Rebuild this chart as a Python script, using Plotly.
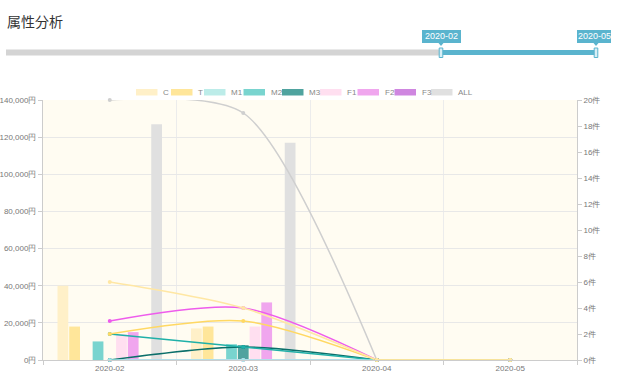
import plotly.graph_objects as go

months = ["2020-02", "2020-03", "2020-04", "2020-05"]
series = ["C", "T", "M1", "M2", "M3", "F1", "F2", "F3", "ALL"]

# amounts (yen) - bars on left axis
amount_C = [40000, 17000, 0, 0]
amount_T = [18000, 18000, 0, 0]
amount_M1 = [0, 0, 0, 0]
amount_M2 = [10000, 8500, 0, 0]
amount_M3 = [0, 8000, 0, 0]
amount_F1 = [14000, 18000, 0, 0]
amount_F2 = [15000, 31000, 0, 0]
amount_F3 = [0, 0, 0, 0]
amount_ALL = [127000, 117000, 0, 0]

# counts (件) - lines on right axis
count_C = [6, 4, 0, 0]
count_T = [2, 3, 0, 0]
count_M1 = [0, 0, 0, 0]
count_M2 = [2, 1, 0, 0]
count_M3 = [0, 1, 0, 0]
count_F1 = [0, 0, 0, 0]
count_F2 = [3, 4, 0, 0]
count_F3 = [0, 0, 0, 0]
count_ALL = [20, 19, 0, 0]

slider_start, slider_end = "2020-02", "2020-05"

amounts = dict(C=amount_C, T=amount_T, M1=amount_M1, M2=amount_M2, M3=amount_M3,
               F1=amount_F1, F2=amount_F2, F3=amount_F3, ALL=amount_ALL)
counts = dict(C=count_C, T=count_T, M1=count_M1, M2=count_M2, M3=count_M3,
              F1=count_F1, F2=count_F2, F3=count_F3, ALL=count_ALL)

bar_colors = dict(C="#fff0c8", T="#ffe69a", M1="#bcece9", M2="#79d4cf", M3="#4fa39f",
                  F1="#ffdff0", F2="#f0a6ee", F3="#cf86e0", ALL="#e0e0e0")
line_colors = dict(C="#ffe7a4", T="#ffd863", M1="#9ee9ea", M2="#1fb0a8", M3="#0b6f6a",
                   F1="#ffd3ea", F2="#ee5cec", F3="#b25ad0", ALL="#cfcfcf")

W, H = 620, 392
ML, MR, MT, MB = 43, 43, 100, 32
PW, PH = W - ML - MR, H - MT - MB


def px(x):
    return (x - ML) / PW


def py(y):
    return (H - MB - y) / PH


fig = go.Figure()

for s in series:
    fig.add_trace(go.Bar(x=months, y=amounts[s], name=s, marker_color=bar_colors[s],
                         marker_line_width=0, yaxis="y", showlegend=False))

line_order = ["ALL", "F3", "F2", "F1", "M3", "M2", "M1", "T", "C"]
for s in line_order:
    vals = counts[s]
    fig.add_trace(go.Scatter(x=months[:3], y=vals[:3], mode="lines+markers", yaxis="y2",
                             line=dict(color=line_colors[s], width=1.5, shape="spline",
                                       smoothing=0.75 if s == "ALL" else 0.8),
                             marker=dict(size=4, color=line_colors[s]), cliponaxis=False,
                             showlegend=False))
for s in line_order:
    vals = counts[s]
    fig.add_trace(go.Scatter(x=months[2:], y=vals[2:], mode="lines+markers", yaxis="y2",
                             line=dict(color=line_colors[s], width=1.5),
                             marker=dict(size=4, color=line_colors[s]), cliponaxis=False,
                             showlegend=False))

shapes = []
annotations = []

# title
annotations.append(dict(text="属性分析", xref="paper", yref="paper", x=px(5), y=py(21),
                        xanchor="left", yanchor="middle", showarrow=False,
                        font=dict(size=14, color="#333333", family="Noto Sans CJK JP")))

# slider (dataZoom)
blue = "#5ab4ce"
shapes.append(dict(type="rect", xref="paper", yref="paper", x0=px(6), x1=px(441),
                   y0=py(49.5), y1=py(55.5), fillcolor="#d4d4d4", line_width=0, layer="above"))
shapes.append(dict(type="rect", xref="paper", yref="paper", x0=px(441), x1=px(596),
                   y0=py(50), y1=py(55), fillcolor=blue, line_width=0, layer="above"))
for hx, lbl, bx0, bx1 in [(441, slider_start, 422, 461), (596, slider_end, 577, 611)]:
    shapes.append(dict(type="rect", xref="paper", yref="paper", x0=px(hx - 1.8), x1=px(hx + 1.8),
                       y0=py(48), y1=py(57.5), fillcolor="#d8eff6",
                       line=dict(color=blue, width=1), layer="above"))
    shapes.append(dict(type="rect", xref="paper", yref="paper", x0=px(bx0), x1=px(bx1),
                       y0=py(30), y1=py(43), fillcolor=blue, line_width=0, layer="above"))
    shapes.append(dict(type="path", xref="paper", yref="paper",
                       path=f"M {px(hx-2.5)},{py(43)} L {px(hx+2.5)},{py(43)} L {px(hx)},{py(46)} Z",
                       fillcolor=blue, line_width=0, layer="above"))
    annotations.append(dict(text=lbl, xref="paper", yref="paper", x=px((bx0 + bx1) / 2), y=py(36.5),
                            xanchor="center", yanchor="middle", showarrow=False,
                            font=dict(size=9, color="white", family="Liberation Sans")))

# legend
legend_x = dict(C=136, T=171, M1=204, M2=243.5, M3=282, F1=320, F2=357.5, F3=394.5, ALL=431)
for s in series:
    x0 = legend_x[s]
    shapes.append(dict(type="rect", xref="paper", yref="paper", x0=px(x0), x1=px(x0 + 21.5),
                       y0=py(89), y1=py(95.5), fillcolor=bar_colors[s], line_width=0, layer="above"))
    annotations.append(dict(text=s, xref="paper", yref="paper", x=px(x0 + 25), y=py(92.3),
                            xanchor="left", yanchor="middle", showarrow=False,
                            font=dict(size=8, color="#888888", family="Liberation Sans")))

tick_font = dict(size=8, color="#777777", family="Liberation Sans")

fig.update_layout(
    width=W, height=H,
    margin=dict(l=ML, r=MR, t=MT, b=MB, pad=0, autoexpand=False),
    paper_bgcolor="white",
    plot_bgcolor="#fffcf2",
    barmode="group", bargap=0.21, bargroupgap=0.08,
    shapes=shapes, annotations=annotations,
    showlegend=False,
    xaxis=dict(type="category", categoryorder="array", categoryarray=months,
               tickson="boundaries", showgrid=True, gridcolor="#ececec", gridwidth=1,
               showline=True, linecolor="#cccccc", ticks="outside", ticklen=4, tickcolor="#cccccc",
               tickfont=tick_font, fixedrange=True, automargin=False),
    yaxis=dict(range=[0, 140000], dtick=20000, tickformat=",d", ticksuffix="円",
               showgrid=True, gridcolor="#e8e8e8", zeroline=False,
               showline=True, linecolor="#cccccc", ticks="outside", ticklen=4, tickcolor="#cccccc",
               tickfont=tick_font, automargin=False),
    yaxis2=dict(range=[0, 20], dtick=2, ticksuffix="件", overlaying="y", side="right",
                showgrid=False, zeroline=False,
                showline=True, linecolor="#cccccc", ticks="outside", ticklen=4, tickcolor="#cccccc",
                tickfont=tick_font, automargin=False),
    font=dict(family="Liberation Sans"),
)

fig.write_html("out.html", config={"displayModeBar": False},
               post_script="document.body.style.margin='0';document.body.style.padding='0';")
